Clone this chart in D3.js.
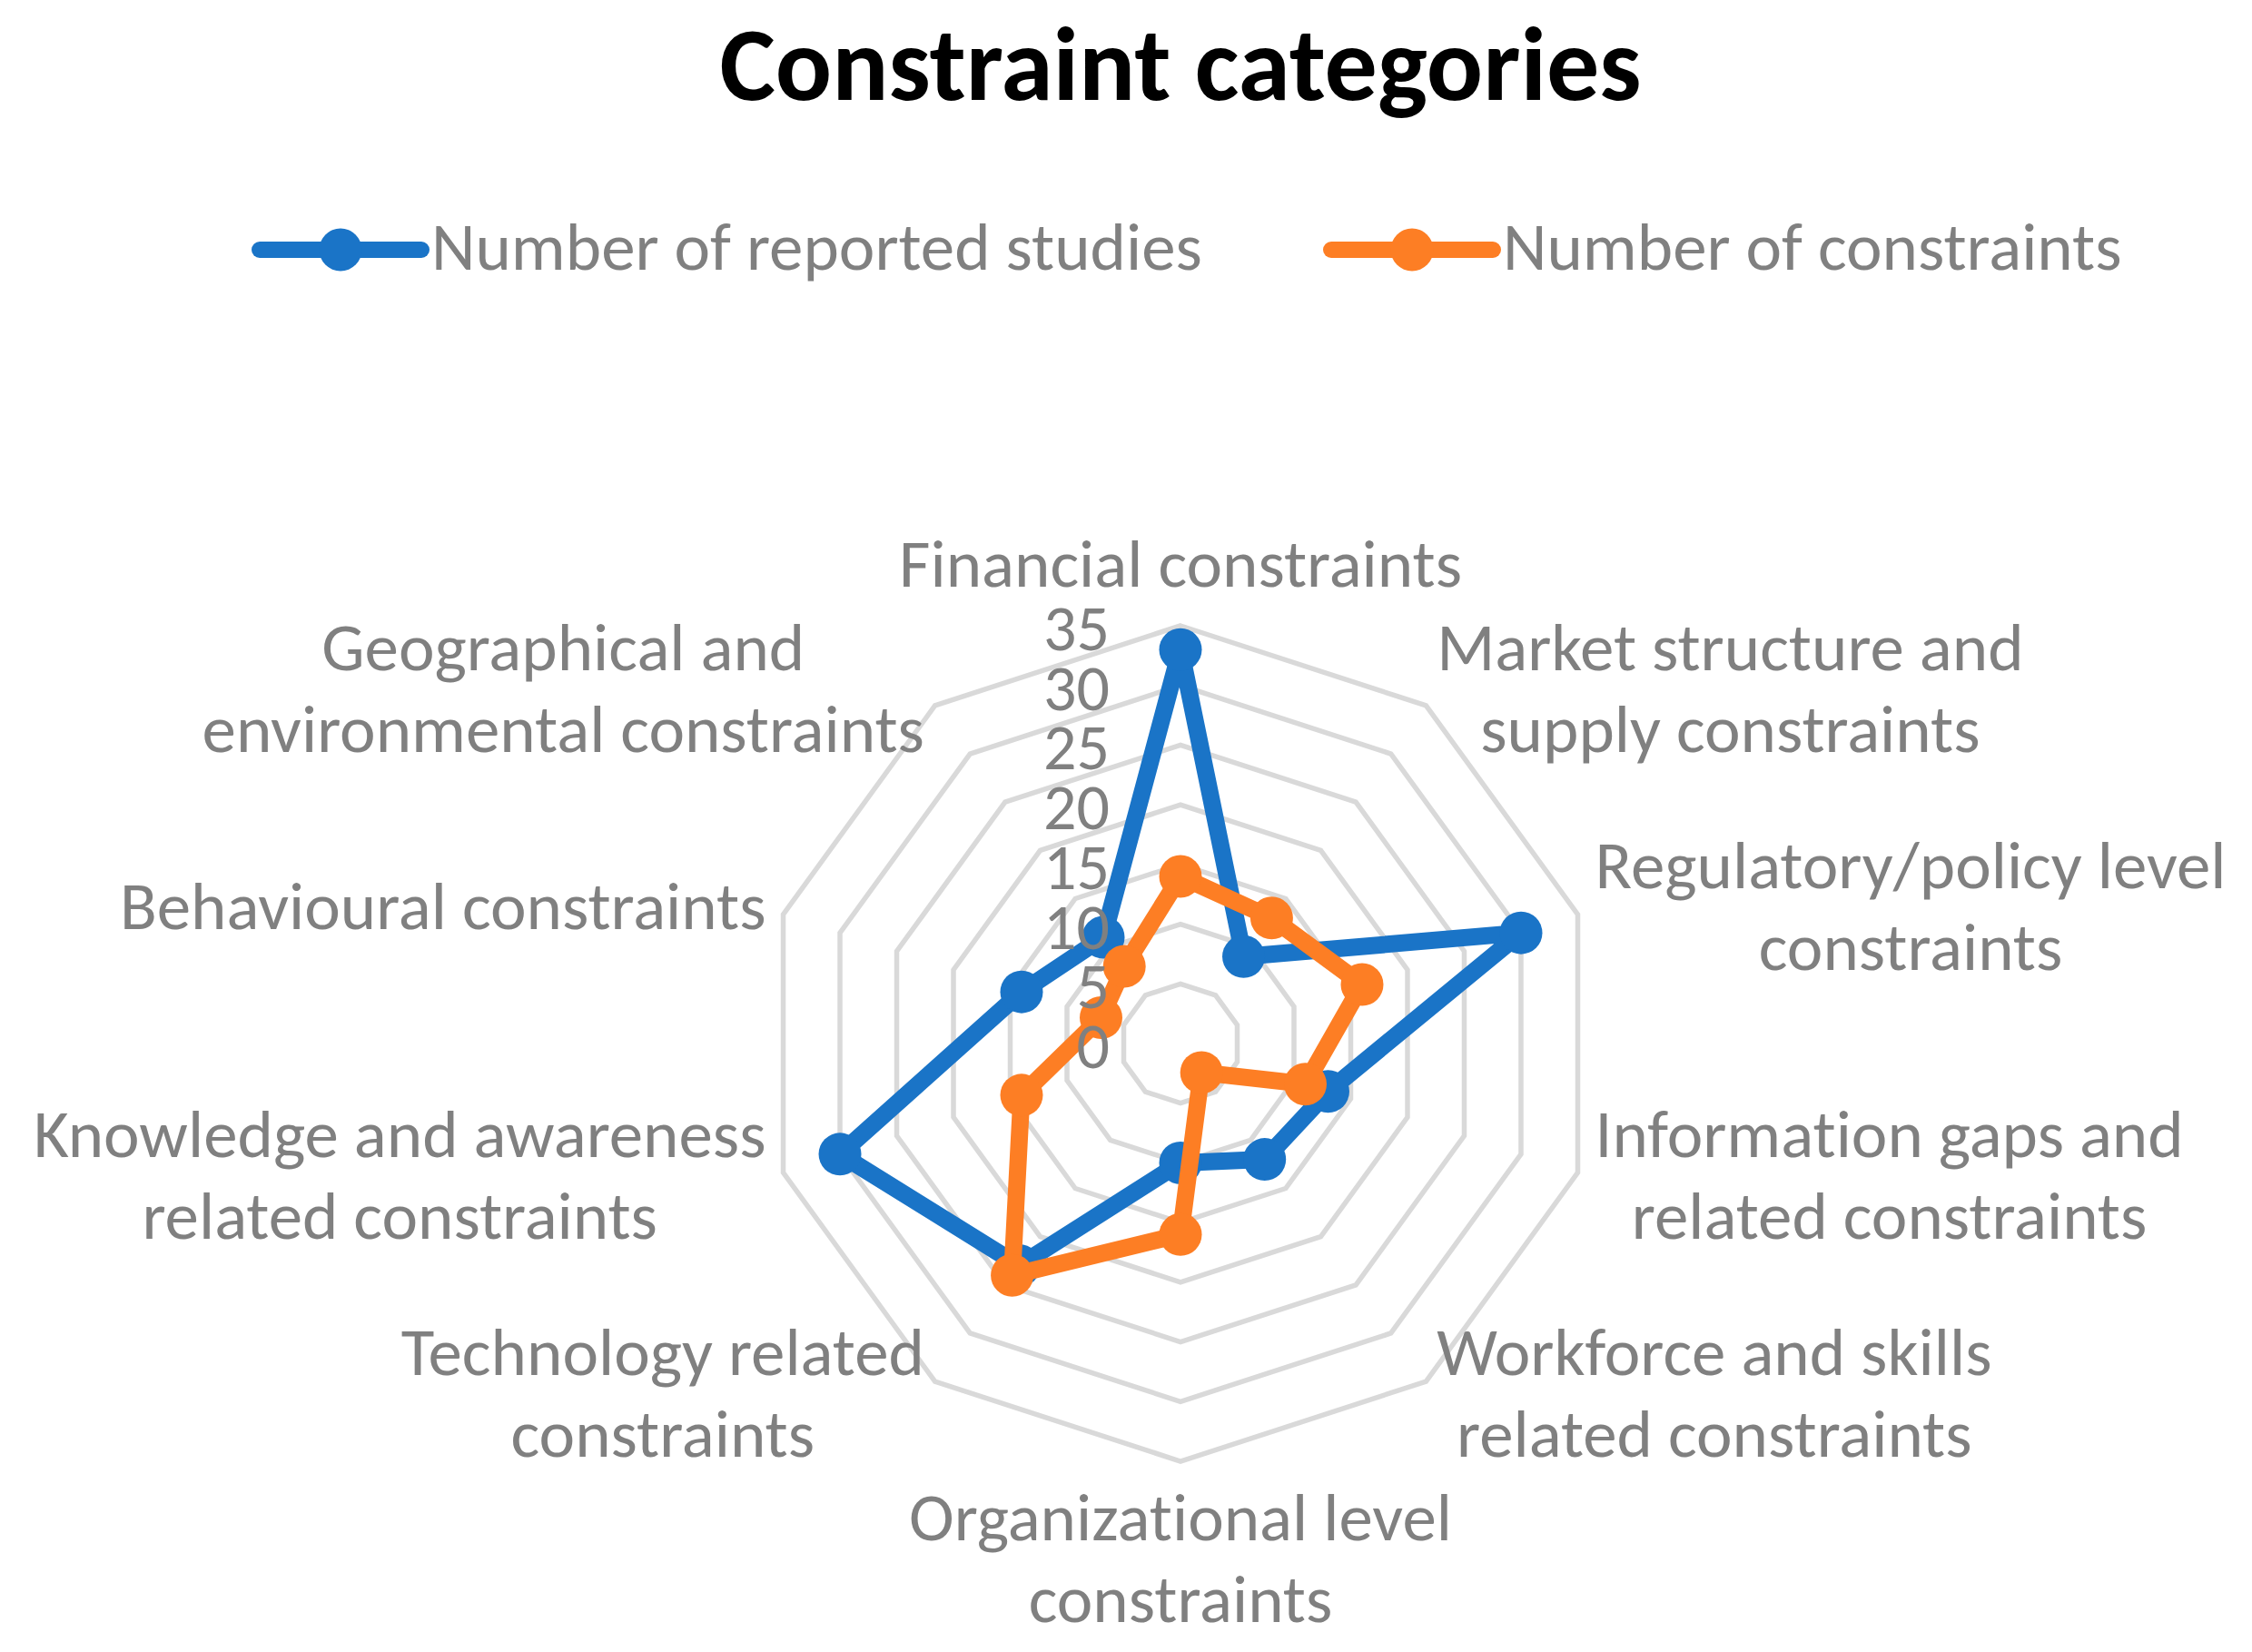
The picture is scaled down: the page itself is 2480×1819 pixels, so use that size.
<!DOCTYPE html>
<html>
<head>
<meta charset="utf-8">
<script src="https://cdn.jsdelivr.net/npm/d3@7"></script>
<style>
  html, body { margin: 0; padding: 0; background: #fff; }
  svg { display: block; }
  text { font-family: Carlito, Calibri, Lato, sans-serif; font-variant-ligatures: none; }
</style>
</head>
<body>
<svg id="chart" width="2480" height="1819"></svg>
<script>
// categories clockwise from the top
const categories = [
  "Financial constraints",
  "Market structure and\nsupply constraints",
  "Regulatory/policy level\nconstraints",
  "Information gaps and\nrelated constraints",
  "Workforce and skills\nrelated constraints",
  "Organizational level\nconstraints",
  "Technology related\nconstraints",
  "Knowledge and awareness\nrelated constraints",
  "Behavioural constraints",
  "Geographical and\nenvironmental constraints"
];
const reportedStudies = [33, 9, 30, 13, 12, 10, 23, 30, 14, 11];
const numConstraints = [14, 13, 16, 11, 3, 16, 24, 14, 7, 8];
const tickValues = [0, 5, 10, 15, 20, 25, 30, 35];
const seriesNames = ["Number of reported studies", "Number of constraints"];
const seriesColors = ["#1a74c7", "#fd7e24"];

const svg = d3.select("#chart");
const cx = 1300, cy = 1149, radius = 460;
const fontSize = 75;
const tickFontSize = 72;
const textColor = "#808080";

const r = d3.scaleLinear().domain([0, 35]).range([0, radius]);
const angle = d3.scaleLinear().domain([0, categories.length]).range([0, 2 * Math.PI]);

// title
svg.append("text")
  .attr("x", cx)
  .attr("y", 110)
  .attr("text-anchor", "middle")
  .attr("font-size", 116)
  .attr("font-weight", "bold")
  .attr("fill", "#000")
  .text("Constraint categories");

// legend
const legendItems = [
  { name: seriesNames[0], color: seriesColors[0], x0: 286 },
  { name: seriesNames[1], color: seriesColors[1], x0: 1466 }
];
const legend = svg.append("g");
legendItems.forEach((d) => {
  const g = legend.append("g");
  g.append("line")
    .attr("x1", d.x0).attr("x2", d.x0 + 178)
    .attr("y1", 275).attr("y2", 275)
    .attr("stroke", d.color)
    .attr("stroke-width", 18)
    .attr("stroke-linecap", "round");
  g.append("circle")
    .attr("cx", d.x0 + 89).attr("cy", 275).attr("r", 23.5)
    .attr("fill", d.color);
  g.append("text")
    .attr("x", d.x0 + 189).attr("y", 297)
    .attr("font-size", fontSize)
    .attr("fill", textColor)
    .text(d.name);
});

const plot = svg.append("g").attr("transform", `translate(${cx},${cy})`);

// grid rings
const ring = d3.lineRadial()
  .angle((d, i) => angle(i))
  .radius((d) => r(d))
  .curve(d3.curveLinearClosed);

plot.append("g")
  .selectAll("path")
  .data(tickValues.filter((t) => t > 0))
  .enter()
  .append("path")
  .attr("d", (t) => ring(categories.map(() => t)))
  .attr("fill", "none")
  .attr("stroke", "#d9d9d9")
  .attr("stroke-width", 5.5);

// series
const seriesLine = d3.lineRadial()
  .angle((d, i) => angle(i))
  .radius((d) => r(d))
  .curve(d3.curveLinearClosed);

[reportedStudies, numConstraints].forEach((values, s) => {
  const g = plot.append("g");
  g.append("path")
    .attr("d", seriesLine(values))
    .attr("fill", "none")
    .attr("stroke", seriesColors[s])
    .attr("stroke-width", 19)
    .attr("stroke-linejoin", "round");
  g.selectAll("circle")
    .data(values)
    .enter()
    .append("circle")
    .attr("cx", (d, i) => r(d) * Math.sin(angle(i)))
    .attr("cy", (d, i) => -r(d) * Math.cos(angle(i)))
    .attr("r", 23.5)
    .attr("fill", seriesColors[s]);
});

// category labels
const lineHeight = 90;
categories.forEach((cat, i) => {
  const a = angle(i);
  const sx = Math.sin(a), sy = -Math.cos(a);
  const ax = (radius + 20) * sx;
  const ay = (radius + 20) * sy;
  const lines = cat.split("\n");
  const g = plot.append("g");
  const texts = lines.map((ln) =>
    g.append("text")
      .attr("font-size", fontSize)
      .attr("fill", textColor)
      .attr("text-anchor", "middle")
      .text(ln)
  );
  const blockW = d3.max(texts, (t) => t.node().getComputedTextLength());
  const blockH = lines.length * lineHeight;
  let midX = ax;
  if (sx > 0.01) midX = ax + blockW / 2;
  else if (sx < -0.01) midX = ax - blockW / 2;
  let top = ay - blockH / 2;
  if (i === 0) top = ay - blockH;
  else if (Math.abs(a - Math.PI) < 0.01) top = ay;
  texts.forEach((t, k) => {
    t.attr("x", midX).attr("y", top + lineHeight / 2 + k * lineHeight + 22);
  });
});

// value axis labels
plot.append("g")
  .selectAll("text")
  .data(tickValues)
  .enter()
  .append("text")
  .attr("x", -78)
  .attr("y", (t) => -r(t) + 27)
  .attr("text-anchor", "end")
  .attr("font-size", tickFontSize)
  .attr("fill", textColor)
  .text((t) => t);
</script>
</body>
</html>
